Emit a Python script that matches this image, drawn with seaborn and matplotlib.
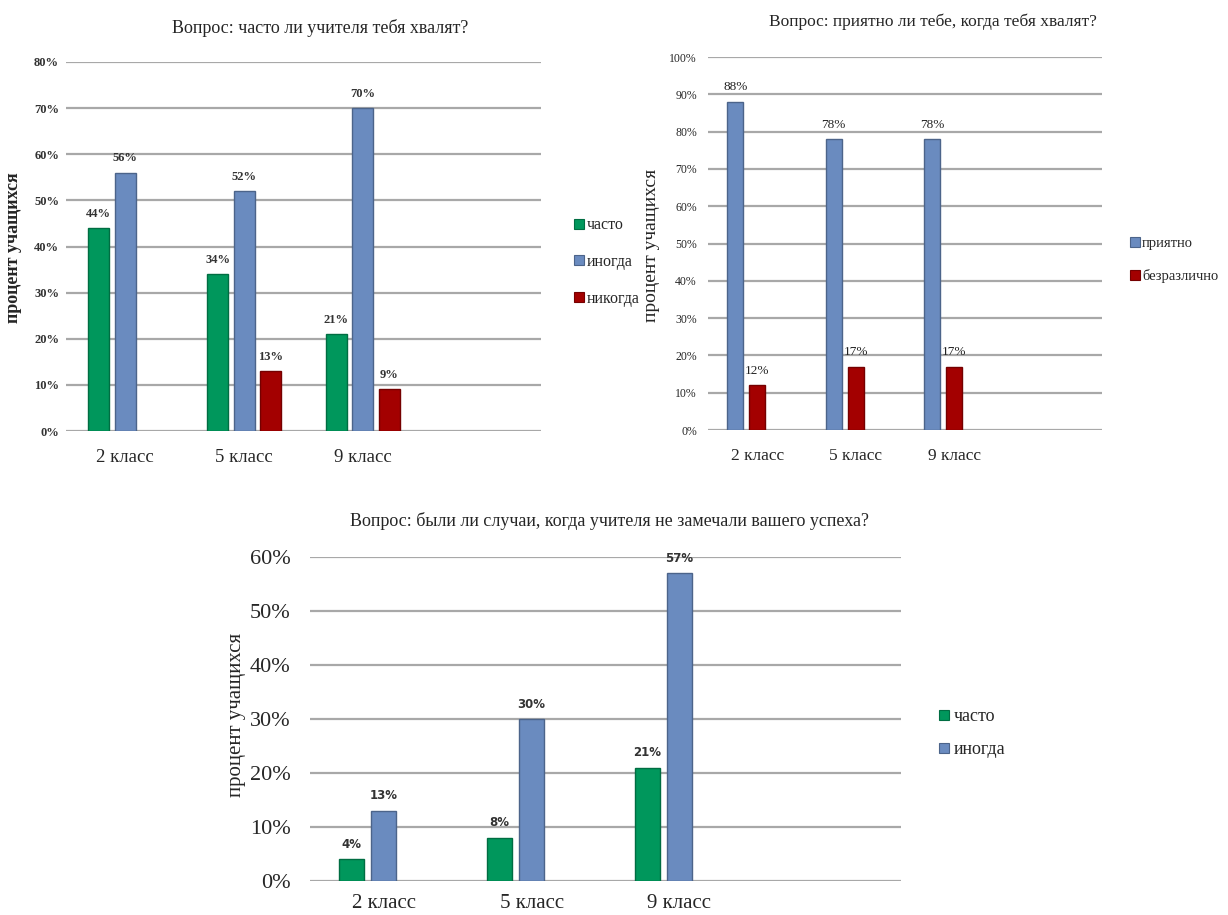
import numpy as np
import pandas as pd
import matplotlib
matplotlib.use("Agg")
import matplotlib.pyplot as plt
import matplotlib.colors as mcolors
from matplotlib.lines import Line2D
import seaborn as sns

# --------------------------------------------------
# DATA
# --------------------------------------------------

classes = ["2 класс", "5 класс", "9 класс"]

# chart 1: часто ли учителя тебя хвалят?
praise_often = [44, 34, 21]
praise_sometimes = [56, 52, 70]
praise_never = [np.nan, 13, 9]

# chart 2: приятно ли тебе, когда тебя хвалят?
pleasant = [88, 78, 78]
indifferent = [12, 17, 17]

# chart 3: были ли случаи, когда учителя не замечали вашего успеха?
unnoticed_often = [4, 8, 21]
unnoticed_sometimes = [13, 30, 57]

titles = [
    "Вопрос: часто ли учителя тебя хвалят?",
    "Вопрос: приятно ли тебе, когда тебя хвалят?",
    "Вопрос: были ли случаи, когда учителя не замечали вашего успеха?",
]
ylabel = "процент учащихся"

GREEN = "#00975C"
BLUE = "#6A8BBF"
RED = "#A30000"
GRID = "#A8A8A8"
EMPTY = "(пусто)"  # unused third series slot, like the Excel original

SERIF = ["Liberation Serif", "DejaVu Serif"]

# --------------------------------------------------
# HELPERS
# --------------------------------------------------

W, H = 1228, 915

def frac(x, y):
    return x / W, 1 - y / H

def make_df(series):
    rows = []
    for name, vals in series.items():
        for c, v in zip(classes, vals):
            rows.append({"класс": c, "серия": name, "value": v})
    return pd.DataFrame(rows).dropna()

def darker(color, k=0.72):
    r, g, b, _ = mcolors.to_rgba(color)
    return (r * k, g * k, b * k)

def draw(ax, df, hue_order, palette, ymax, width, gap):
    sns.barplot(data=df, x="класс", y="value", hue="серия", order=classes,
                hue_order=hue_order, palette=palette, width=width, gap=gap,
                legend=False, ax=ax, saturation=1, err_kws={"linewidth": 0})
    for p in ax.patches:
        p.set_edgecolor(darker(p.get_facecolor()))
        p.set_linewidth(1.0)
    ax.set_xlim(-0.5, 3.5)
    ax.set_ylim(0, ymax)
    ax.set_yticks(range(0, ymax + 1, 10))
    ax.set_yticklabels([f"{t}%" for t in range(0, ymax + 1, 10)])
    ax.yaxis.grid(True, color=GRID, linewidth=1.6)
    ax.xaxis.grid(False)
    ax.set_axisbelow(True)
    for s in ax.spines.values():
        s.set_visible(False)
    ax.tick_params(length=0)
    ax.set_xlabel("")
    ax.set_ylabel("")

def add_labels(ax, **kw):
    for cont in ax.containers:
        labels = []
        for bar in cont:
            h = bar.get_height()
            labels.append("" if np.isnan(h) or h == 0 else f"{h:.0f}%")
        ax.bar_label(cont, labels=labels, **kw)

def legend(fig, names, colors, x, y, size, spacing):
    handles = [Line2D([], [], marker="s", linestyle="none", markersize=7,
                      markerfacecolor=c, markeredgecolor=darker(c), markeredgewidth=0.8)
               for c in colors]
    fig.legend(handles, names, loc="center left", bbox_to_anchor=frac(x, y),
               bbox_transform=fig.transFigure, frameon=False, handlelength=0.6,
               handletextpad=0.2, labelspacing=spacing, borderpad=0,
               prop={"family": SERIF, "size": size})

# --------------------------------------------------
# FIGURE
# --------------------------------------------------

sns.set_style("white")
plt.rcParams["font.family"] = SERIF

fig = plt.figure(figsize=(12.28, 9.15), dpi=100)

# ---------- chart 1 ----------
ax1 = fig.add_axes([66 / W, 1 - 431 / H, 475 / W, 369 / H])
df1 = make_df({"часто": praise_often, "иногда": praise_sometimes, "никогда": praise_never})
draw(ax1, df1, ["часто", "иногда", "никогда"],
     {"часто": GREEN, "иногда": BLUE, "никогда": RED}, 80, 0.67, 0.21)
add_labels(ax1, padding=6, fontsize=9, fontweight="bold", color="#333333")
for t in ax1.get_yticklabels():
    t.set_fontsize(9)
    t.set_fontweight("bold")
    t.set_color("#333333")
ax1.tick_params(axis="y", pad=5)
ax1.tick_params(axis="x", labelsize=13.5, pad=13)
legend(fig, ["часто", "иногда", "никогда"], [GREEN, BLUE, RED], 566, 262, 11.5, 1.3)
fig.text(*frac(320, 28), titles[0], ha="center", va="center", fontsize=13)
fig.text(*frac(14, 248), ylabel, rotation=90, ha="center", va="center",
         fontsize=13, fontweight="bold")

# ---------- chart 2 ----------
ax2 = fig.add_axes([708 / W, 1 - 430 / H, 394 / W, 373 / H])
df2 = make_df({"приятно": pleasant, "безразлично": indifferent})
draw(ax2, df2, ["приятно", "безразлично", EMPTY],
     {"приятно": BLUE, "безразлично": RED, EMPTY: "white"}, 100, 0.67, 0.27)
add_labels(ax2, padding=6, fontsize=9.5, color="#222222")
ax2.tick_params(axis="y", labelsize=8.5, pad=8)
ax2.tick_params(axis="x", labelsize=12.5, pad=13)
legend(fig, ["приятно", "безразлично"], [BLUE, RED], 1123, 260, 10.5, 1.3)
fig.text(*frac(933, 22), titles[1], ha="center", va="center", fontsize=12.5)
fig.text(*frac(652, 245), ylabel, rotation=90, ha="center", va="center", fontsize=14)

# ---------- chart 3 ----------
ax3 = fig.add_axes([310 / W, 1 - 881 / H, 591 / W, 324 / H])
df3 = make_df({"часто": unnoticed_often, "иногда": unnoticed_sometimes})
draw(ax3, df3, ["часто", "иногда", EMPTY],
     {"часто": GREEN, "иногда": BLUE, EMPTY: "white"}, 60, 0.65, 0.22)
add_labels(ax3, padding=6, fontsize=8.5, fontweight="bold", color="#333333",
           family=["DejaVu Sans"])
ax3.tick_params(axis="y", labelsize=16, pad=14)
ax3.tick_params(axis="x", labelsize=15, pad=9)
legend(fig, ["часто", "иногда"], [GREEN, BLUE], 930, 733, 13, 0.9)
fig.text(*frac(610, 521), titles[2], ha="center", va="center", fontsize=13)
fig.text(*frac(237, 715), ylabel, rotation=90, ha="center", va="center", fontsize=15)

fig.savefig("out.png", dpi=100)
